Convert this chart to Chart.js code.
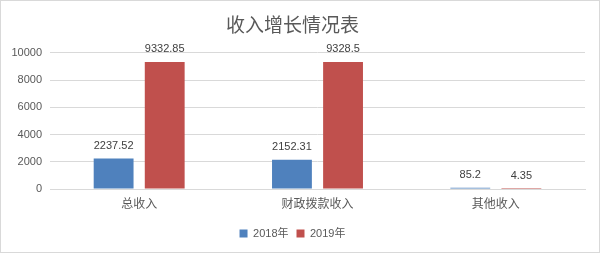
<!DOCTYPE html>
<html>
<head>
<meta charset="utf-8">
<script src="https://cdn.jsdelivr.net/npm/chart.js@4"></script>
<style>
html,body{margin:0;padding:0;background:#fff;}
#wrap{width:600px;height:254px;position:relative;}
</style>
</head>
<body>
<div id="wrap"><canvas id="c" width="600" height="254"></canvas></div>
<script>
const categories = ["总收入", "财政拨款收入", "其他收入"];
const series2018 = [2237.52, 2152.31, 85.2];
const series2019 = [9332.85, 9328.5, 4.35];
const seriesNames = ["2018年", "2019年"];
const yTickStep = 2000;
const yMax = 10000;

const FONT = "'Liberation Sans','Noto Sans CJK SC',sans-serif";

const borderPlugin = {
  id: 'border',
  afterDraw(chart) {
    const ctx = chart.ctx;
    ctx.save();
    ctx.strokeStyle = '#d9d9d9';
    ctx.lineWidth = 1;
    ctx.strokeRect(0.5, 0.5, chart.width - 1, chart.height - 2);
    ctx.restore();
  }
};

const labelPlugin = {
  id: 'vlabels',
  afterDatasetsDraw(chart) {
    const ctx = chart.ctx;
    ctx.save();
    ctx.font = "11px " + FONT;
    ctx.fillStyle = '#404040';
    ctx.textAlign = 'center';
    ctx.textBaseline = 'alphabetic';
    chart.data.datasets.forEach((ds, i) => {
      const meta = chart.getDatasetMeta(i);
      meta.data.forEach((el, j) => {
        ctx.fillText(String(ds.data[j]), el.x, el.y - 10);
      });
    });
    ctx.restore();
  }
};

new Chart(document.getElementById('c'), {
  type: 'bar',
  data: {
    labels: categories,
    datasets: [
      { label: seriesNames[0], data: series2018, backgroundColor: '#4F81BD', barPercentage: 0.78, categoryPercentage: 0.573 },
      { label: seriesNames[1], data: series2019, backgroundColor: '#C0504D', barPercentage: 0.78, categoryPercentage: 0.573 }
    ]
  },
  options: {
    responsive: false,
    animation: false,
    devicePixelRatio: 1,
    layout: { padding: { left: 0, right: 15, top: 0, bottom: 5 } },
    plugins: {
      title: {
        display: true,
        text: '收入增长情况表',
        color: '#595959',
        font: { size: 19, family: FONT, weight: 'normal' },
        padding: { top: 15, bottom: 15 }
      },
      legend: {
        position: 'bottom',
        labels: {
          boxWidth: 8, boxHeight: 8,
          color: '#595959',
          font: { size: 11, family: FONT },
          padding: 8
        }
      },
      tooltip: { enabled: false }
    },
    scales: {
      x: {
        afterFit(scale) { scale.height = 31; },
        grid: { display: false, drawTicks: false },
        border: { color: '#d9d9d9' },
        ticks: { color: '#595959', font: { size: 12, family: FONT }, padding: 8 }
      },
      y: {
        min: 0, max: yMax,
        afterFit(scale) { scale.width = 50; },
        grid: { color: '#d9d9d9', drawTicks: false },
        border: { display: false },
        ticks: {
          stepSize: yTickStep,
          autoSkip: false,
          color: '#595959',
          font: { size: 11, family: FONT },
          padding: 8,
          callback: v => String(v)
        }
      }
    }
  },
  plugins: [labelPlugin, borderPlugin]
});
</script>
</body>
</html>
